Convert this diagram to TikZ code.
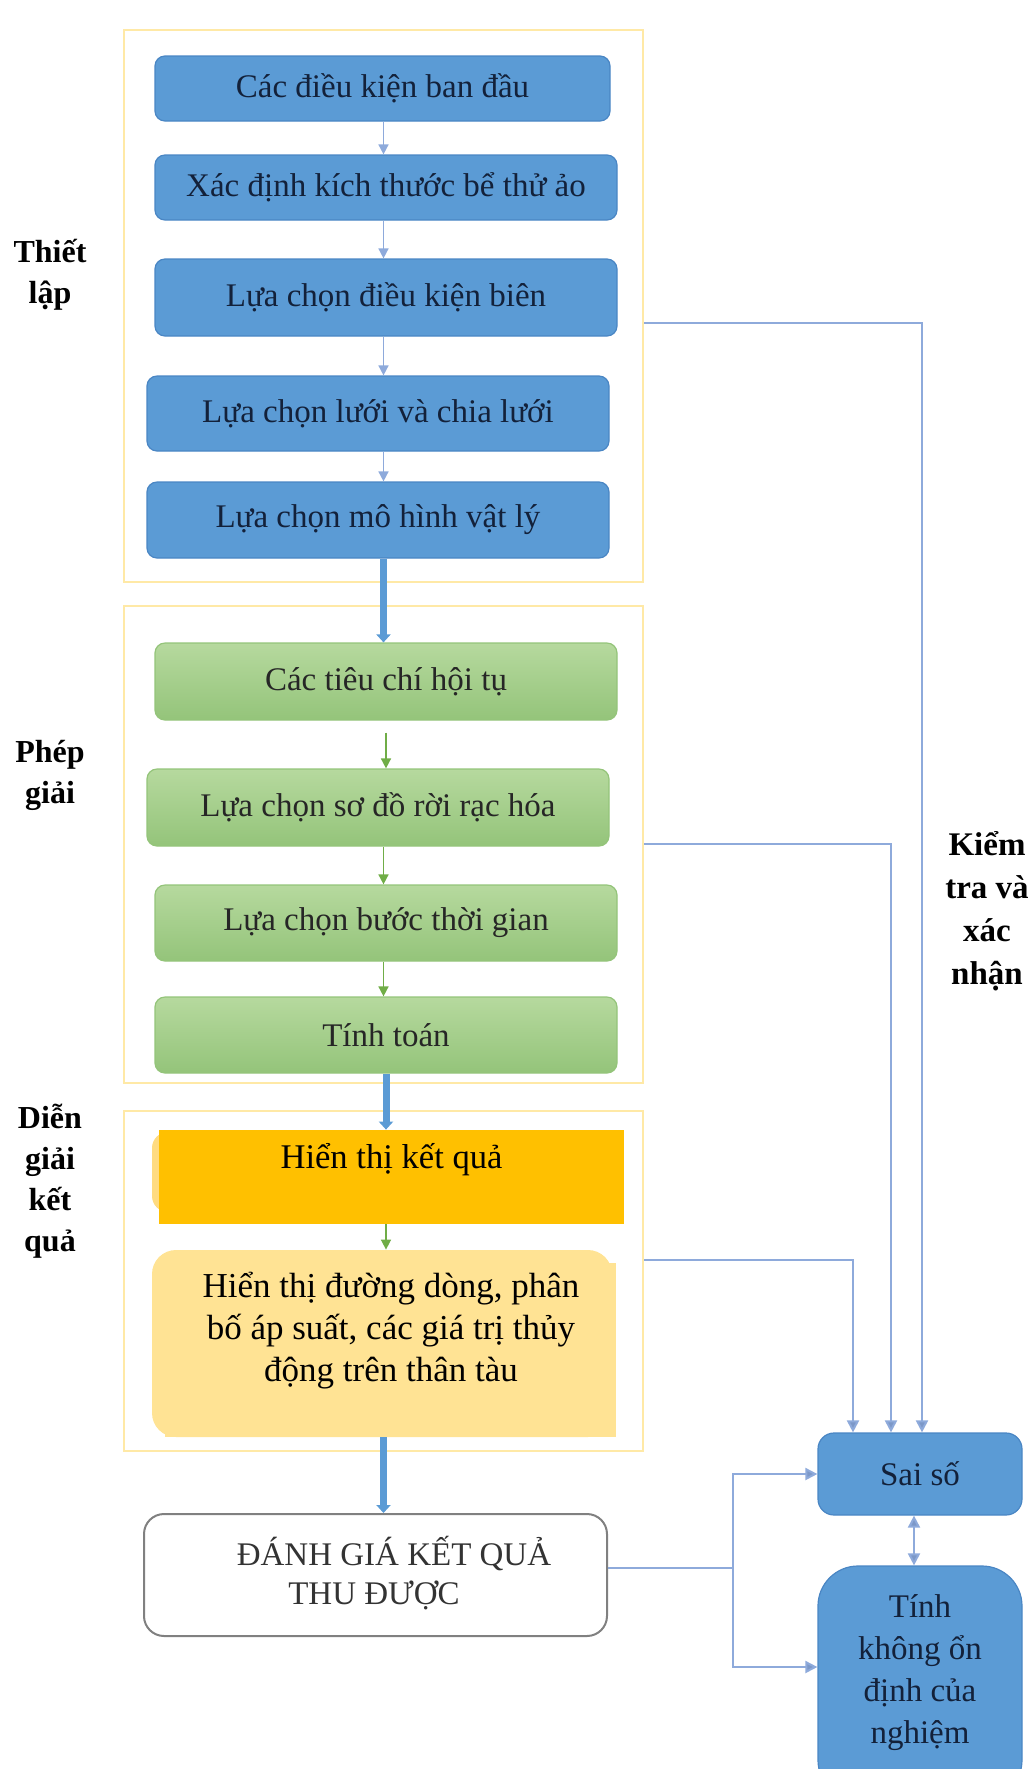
\documentclass[tikz,border=0pt]{standalone}
\usepackage{fontspec}
\setmainfont{Liberation Serif}
\usetikzlibrary{arrows.meta,positioning}

\definecolor{boxblue}{HTML}{5B9BD5}
\definecolor{edgeblue}{HTML}{4A86C4}
\definecolor{linkblue}{HTML}{8EAADB}
\definecolor{tipblue}{HTML}{7C98C8}
\definecolor{greentop}{HTML}{B6D99E}
\definecolor{greenbot}{HTML}{94C47A}
\definecolor{greenarr}{HTML}{70AD47}
\definecolor{framey}{HTML}{FFE9A6}
\definecolor{resorange}{HTML}{FFC000}
\definecolor{oldorange}{HTML}{FFDB80}
\definecolor{paleyel}{HTML}{FFE394}
\definecolor{textnavy}{HTML}{13213A}

\tikzset{
  boxfont/.style={font=\fontsize{16.5}{20}\selectfont},
  setupbox/.style={boxfont, rounded corners=5pt, fill=boxblue, draw=edgeblue,
    line width=0.6pt, minimum width=231pt, text=textnavy, inner sep=0pt},
  solvebox/.style={boxfont, rounded corners=5pt, top color=greentop,
    bottom color=greenbot, draw=greenbot, line width=0.6pt,
    minimum width=231pt, text=black!85, inner sep=0pt},
  framebox/.style={draw=framey, line width=1.2pt, inner sep=0pt},
  sidelabel/.style={font=\bfseries\fontsize{16}{20.5}\selectfont, align=center},
  thinarrow/.style={draw=linkblue, line width=0.8pt,
    -{Triangle[width=5pt,length=5pt]}},
  greenarrow/.style={draw=greenarr, line width=0.8pt,
    -{Triangle[width=5pt,length=5pt]}},
  thickarrow/.style={draw=boxblue, line width=3.5pt,
    -{Triangle[width=7pt,length=4pt]}},
  checkline/.style={draw=linkblue, line width=1pt,
    -{Triangle[width=6pt,length=6pt,fill=tipblue]}},
}

\begin{document}
\begin{tikzpicture}[x=0.5pt,y=-0.5pt]
  \useasboundingbox (0,0) rectangle (1032,1769);

  % frames of the three stages
  \node[framebox, minimum width=259.5pt, minimum height=276pt] (thietlap) at (383.5,306) {};
  \node[framebox, minimum width=259.5pt, minimum height=238.5pt] (phepgiai) at (383.5,844.5) {};
  \node[framebox, minimum width=259.5pt, minimum height=170pt] (diengiai) at (383.5,1281) {};

  % stage labels
  \node[sidelabel] (lbl1) at (50,275) {Thiết\\lập};
  \node[sidelabel] (lbl2) at (50,775) {Phép\\giải};
  \node[sidelabel] (lbl3) at (50,1181) {Diễn\\giải\\kết\\quả};
  \node[sidelabel, font=\bfseries\fontsize{16.5}{21.5}\selectfont] (lbl4) at (987,911) {Kiểm\\tra và\\xác\\nhận};

  % setup
  \node[setupbox, minimum width=227.5pt, minimum height=32.5pt] (dk) at (382.5,88.5) {Các điều kiện ban đầu};
  \node[setupbox, minimum height=32.5pt] (kt) at (386,187.5) {Xác định kích thước bể thử ảo};
  \node[setupbox, minimum height=38.5pt] (bien) at (386,297.5) {Lựa chọn điều kiện biên};
  \node[setupbox, minimum height=37.5pt] (luoi) at (378,413.5) {Lựa chọn lưới và chia lưới};
  \node[setupbox, minimum height=38pt] (mohinh) at (378,520) {Lựa chọn mô hình vật lý};

  % solving
  \node[solvebox, minimum height=38.5pt] (tieuchi) at (386,681.5) {Các tiêu chí hội tụ};
  \node[solvebox, minimum height=38.5pt] (sodo) at (378,807.5) {Lựa chọn sơ đồ rời rạc hóa};
  \node[solvebox, minimum height=38pt] (buoc) at (386,923) {Lựa chọn bước thời gian};
  \node[solvebox, minimum height=38pt] (tinh) at (386,1035) {Tính toán};

  % results
  \node[rounded corners=8pt, fill=oldorange, minimum width=230pt, minimum height=40pt] (hienthicu) at (382,1172) {};
  \node[fill=resorange, minimum width=232.5pt, minimum height=47pt, inner sep=0pt] (hienthi) at (391.5,1177) {};
  \node[font=\fontsize{17.3}{21}\selectfont] (hienthitxt) at (391.5,1160) {Hiển thị kết quả};
  \node[rounded corners=12pt, fill=paleyel, minimum width=230pt, minimum height=93.5pt, inner sep=0pt] (duong) at (382,1343.5) {};
  \fill[paleyel] (165,1263) rectangle (616,1437);
  \node[font=\fontsize{17.5}{21}\selectfont, align=center] (duongtxt) at (391,1331)
    {Hiển thị đường dòng, phân\\bố áp suất, các giá trị thủy\\động trên thân tàu};

  % evaluation
  \node[rounded corners=10pt, draw=black!50, line width=1pt, fill=white,
    minimum width=231.5pt, minimum height=61pt] (danhgia) at (375.5,1575) {};
  \node[boxfont, align=center, text=black!80, font=\fontsize{16.5}{19.5}\selectfont] (danhgiatxt) at (394,1573)
    {ĐÁNH GIÁ KẾT QUẢ\\THU ĐƯỢC\hbox to 20pt{}};

  % check and validation
  \node[setupbox, rounded corners=8pt, minimum width=102pt, minimum height=41pt] (saiso) at (920,1474) {Sai số};
  \node[setupbox, rounded corners=20pt, minimum width=102pt, minimum height=117pt] (khongon) at (920,1683) {};
  \node[boxfont, align=center, text=textnavy, font=\fontsize{16.5}{21}\selectfont] (khongontxt) at (920,1673)
    {Tính\\không ổn\\định của\\nghiệm};

  % flow inside the stages
  \draw[thinarrow] (dk.south -| thietlap) -- (kt.north -| thietlap);
  \draw[thinarrow] (kt.south -| thietlap) -- (bien.north -| thietlap);
  \draw[thinarrow] (bien.south -| thietlap) -- (luoi.north -| thietlap);
  \draw[thinarrow] (luoi.south -| thietlap) -- (mohinh.north -| thietlap);
  \draw[greenarrow, shorten <=6pt] (tieuchi.south) -- (tieuchi.south |- sodo.north);
  \draw[greenarrow] (sodo.south -| thietlap) -- (buoc.north -| thietlap);
  \draw[greenarrow] (buoc.south -| thietlap) -- (tinh.north -| thietlap);
  \draw[greenarrow] (tinh.south |- hienthi.south) -- (tinh.south |- duong.north);

  % between the stages
  \draw[thickarrow] (mohinh.south -| thietlap) -- (tieuchi.north -| thietlap);
  \draw[thickarrow] (tinh.south) -- (tinh.south |- hienthi.north);
  \draw[thickarrow] (duong.south -| thietlap) -- (danhgia.north -| thietlap);

  % lines to the error box
  \coordinate (c1) at (922,323);
  \coordinate (c2) at (891,844);
  \coordinate (c3) at (853,1260);
  \coordinate (c4) at (733,1568);
  \coordinate (c5) at (733,1667);
  \coordinate (c6) at (914,0);
  \draw[checkline] (thietlap.east |- c1) -- (c1) -- (c1 |- saiso.north);
  \draw[checkline] (phepgiai.east |- c2) -- (c2) -- (c2 |- saiso.north);
  \draw[checkline] (diengiai.east |- c3) -- (c3) -- (c3 |- saiso.north);
  \draw[checkline, -] (danhgia.east |- c4) -- (c4);
  \draw[checkline] (c4) |- (saiso.west);
  \draw[checkline] (c4) -- (c5) -- (c5 -| khongon.west);
  \draw[checkline, {Triangle[width=6pt,length=6pt,fill=tipblue]}-{Triangle[width=6pt,length=6pt,fill=tipblue]}]
    (saiso.south -| c6) -- (khongon.north -| c6);
\end{tikzpicture}
\end{document}
